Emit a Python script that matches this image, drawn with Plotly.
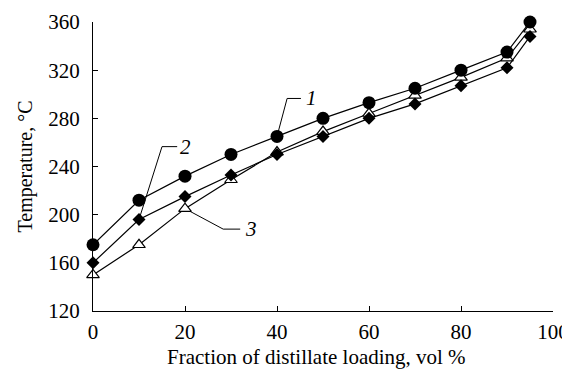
import plotly.graph_objects as go

# Data
fraction = [0, 10, 20, 30, 40, 50, 60, 70, 80, 90, 95]
temp_1 = [175, 212, 232, 250, 265, 280, 293, 305, 320, 335, 360]
temp_2 = [160, 196, 215, 233, 250, 265, 280, 292, 307, 322, 348]
temp_3 = [150, 175, 205, 229, 252, 269, 284, 299, 314, 330, 354]
x_ticks = [0, 20, 40, 60, 80, 100]
y_ticks = [120, 160, 200, 240, 280, 320, 360]

FONT = "Liberation Serif"

fig = go.Figure()

fig.add_trace(go.Scatter(
    x=fraction, y=temp_3, mode="lines+markers", name="3", cliponaxis=False,
    line=dict(color="black", width=1.2),
    marker=dict(symbol="triangle-up", size=11, color="white",
                line=dict(color="black", width=1.2))))
fig.add_trace(go.Scatter(
    x=fraction, y=temp_2, mode="lines+markers", name="2", cliponaxis=False,
    line=dict(color="black", width=1.2),
    marker=dict(symbol="diamond", size=10, color="black")))
fig.add_trace(go.Scatter(
    x=fraction, y=temp_1, mode="lines+markers", name="1", cliponaxis=False,
    line=dict(color="black", width=1.2),
    marker=dict(symbol="circle", size=13, color="black")))

# Leader lines for curve labels (anchored to data points)
leaders = [
    # (label, anchor index, series, elbow (x,y), end x, label pos)
    ("1", 4, temp_1, (42.2, 296.5), 45.2, (47.6, 296.5)),
    ("2", 1, temp_2, (15.0, 256.5), 18.3, (20.0, 256)),
    ("3", 2, temp_3, (28.3, 188.0), 32.0, (34.3, 188)),
]
for label, idx, series, elbow, xend, lpos in leaders:
    fig.add_shape(type="path",
                  path=f"M {fraction[idx]},{series[idx]} L {elbow[0]},{elbow[1]} L {xend},{elbow[1]}",
                  xref="x", yref="y", line=dict(color="black", width=1),
                  layer="below")
    fig.add_annotation(x=lpos[0], y=lpos[1], text=f"<i>{label}</i>",
                       showarrow=False, xanchor="center", yanchor="middle",
                       font=dict(family=FONT, size=21, color="black"))

# x-axis title as annotation (slightly left of plot centre, as in the reference)
fig.add_annotation(x=0.485, y=0, xref="paper", yref="paper",
                   text="Fraction of distillate loading, vol %",
                   showarrow=False, xanchor="center", yanchor="middle",
                   yshift=-46, font=dict(family=FONT, size=21, color="black"))

# page body adds ~8px offset; figure sized to fit the window
fig.update_layout(
    width=562, height=362,
    margin=dict(l=85, r=17, t=14, b=59),
    paper_bgcolor="white", plot_bgcolor="white",
    showlegend=False,
    font=dict(family=FONT, size=21, color="black"),
)
fig.update_xaxes(
    range=[0, 100], tickvals=x_ticks, ticks="inside", ticklen=5,
    tickcolor="black", showline=True, linecolor="black", linewidth=1,
    showgrid=False, zeroline=False, ticklabelstandoff=2, automargin=False,
    tickfont=dict(family=FONT, size=21, color="black"),
)
fig.update_yaxes(
    range=[120, 360], tickvals=y_ticks, ticks="inside", ticklen=5,
    tickcolor="black", showline=True, linecolor="black", linewidth=1,
    showgrid=False, zeroline=False, ticklabelstandoff=8, automargin=False,
    tickfont=dict(family=FONT, size=21, color="black"),
    title=dict(text="Temperature, °C", standoff=10,
               font=dict(family=FONT, size=20)),
)

fig.write_html("out.html")
